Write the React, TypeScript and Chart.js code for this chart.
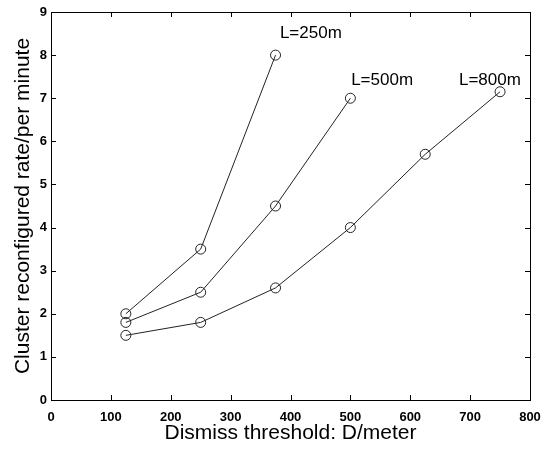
import React, { useEffect, useRef } from "react";
import { Chart, registerables } from "chart.js";

Chart.register(...registerables);

const xValues250 = [125, 250, 375];
const yValues250 = [2.0, 3.5, 8.0];
const xValues500 = [125, 250, 375, 500];
const yValues500 = [1.8, 2.5, 4.5, 7.0];
const xValues800 = [125, 250, 375, 500, 625, 750];
const yValues800 = [1.5, 1.8, 2.6, 4.0, 5.7, 7.15];

const seriesNames = ["L=250m", "L=500m", "L=800m"];
const labelX = [434, 553, 733];
const labelY = [8.5, 7.42, 7.42];

const xMin = 0;
const xMax = 800;
const xStep = 100;
const yMin = 0;
const yMax = 9;
const yStep = 1;

const xTitle = "Dismiss threshold: D/meter";
const yTitle = "Cluster reconfigured rate/per minute";

const FONT = "'Liberation Sans', Arial, Helvetica, sans-serif";

const toPoints = (xs: number[], ys: number[]) => xs.map((x, i) => ({ x, y: ys[i] }));

const framePlugin = {
  id: "frameTicksLabels",
  afterDraw(chart: any) {
    const { ctx, chartArea } = chart;
    const { left, right, top, bottom } = chartArea;
    const xs = chart.scales.x;
    const ys = chart.scales.y;
    ctx.save();
    ctx.strokeStyle = "#000";
    ctx.lineWidth = 1;
    ctx.strokeRect(Math.round(left) + 0.5, Math.round(top) + 0.5, Math.round(right - left), Math.round(bottom - top));
    const tl = 5;
    ctx.beginPath();
    for (let v = xMin + xStep; v < xMax; v += xStep) {
      const px = Math.round(xs.getPixelForValue(v)) + 0.5;
      ctx.moveTo(px, bottom);
      ctx.lineTo(px, bottom - tl);
      ctx.moveTo(px, top);
      ctx.lineTo(px, top + tl);
    }
    for (let v = yMin + yStep; v < yMax; v += yStep) {
      const py = Math.round(ys.getPixelForValue(v)) + 0.5;
      ctx.moveTo(left, py);
      ctx.lineTo(left + tl, py);
      ctx.moveTo(right, py);
      ctx.lineTo(right - tl, py);
    }
    ctx.stroke();
    ctx.fillStyle = "#000";
    ctx.font = `17px ${FONT}`;
    ctx.textAlign = "center";
    ctx.textBaseline = "middle";
    seriesNames.forEach((name, i) => {
      ctx.fillText(name, xs.getPixelForValue(labelX[i]), ys.getPixelForValue(labelY[i]));
    });
    ctx.restore();
  },
};

export default function App() {
  const ref = useRef<HTMLCanvasElement | null>(null);
  useEffect(() => {
    if (!ref.current) return;
    const ds = (data: any[]) => ({
      data,
      borderColor: "#222",
      borderWidth: 1,
      pointRadius: 5,
      pointBorderWidth: 1,
      pointBackgroundColor: "rgba(0,0,0,0)",
      pointBorderColor: "#222",
      pointStyle: "circle",
      fill: false,
      tension: 0,
    });
    const chart = new Chart(ref.current, {
      type: "line",
      data: {
        datasets: [
          { label: seriesNames[0], ...ds(toPoints(xValues250, yValues250)) },
          { label: seriesNames[1], ...ds(toPoints(xValues500, yValues500)) },
          { label: seriesNames[2], ...ds(toPoints(xValues800, yValues800)) },
        ],
      },
      options: {
        responsive: false,
        animation: false,
        devicePixelRatio: 1,
        layout: { padding: { top: 12, right: 11, left: 0, bottom: 0 } },
        plugins: { legend: { display: false }, tooltip: { enabled: false } },
        scales: {
          x: {
            type: "linear",
            min: xMin,
            max: xMax,
            grid: { display: false, drawTicks: false },
            border: { display: false },
            ticks: {
              stepSize: xStep,
              padding: 10,
              color: "#000",
              font: { family: FONT, size: 13, weight: "bold" },
              maxRotation: 0,
            },
            title: {
              display: true,
              text: xTitle,
              color: "#000",
              font: { family: FONT, size: 21 },
              padding: { top: 0, bottom: 3 },
            },
            afterFit: (s: any) => {
              s.height = 49;
              s.paddingLeft = 0;
              s.paddingRight = 0;
            },
          },
          y: {
            type: "linear",
            min: yMin,
            max: yMax,
            grid: { display: false, drawTicks: false },
            border: { display: false },
            ticks: {
              stepSize: yStep,
              padding: 4,
              color: "#000",
              font: { family: FONT, size: 13, weight: "bold" },
            },
            title: {
              display: true,
              text: yTitle,
              color: "#000",
              font: { family: FONT, size: 21 },
              padding: { top: 11, bottom: 0 },
            },
            afterFit: (s: any) => {
              s.width = 51;
              s.paddingTop = 0;
              s.paddingBottom = 0;
            },
          },
        },
      },
      plugins: [framePlugin],
    });
    return () => chart.destroy();
  }, []);
  return (
    <div style={{ position: "fixed", left: 0, top: 0, width: 541, height: 449, background: "#fff" }}>
      <canvas ref={ref} width={541} height={449} />
    </div>
  );
}
